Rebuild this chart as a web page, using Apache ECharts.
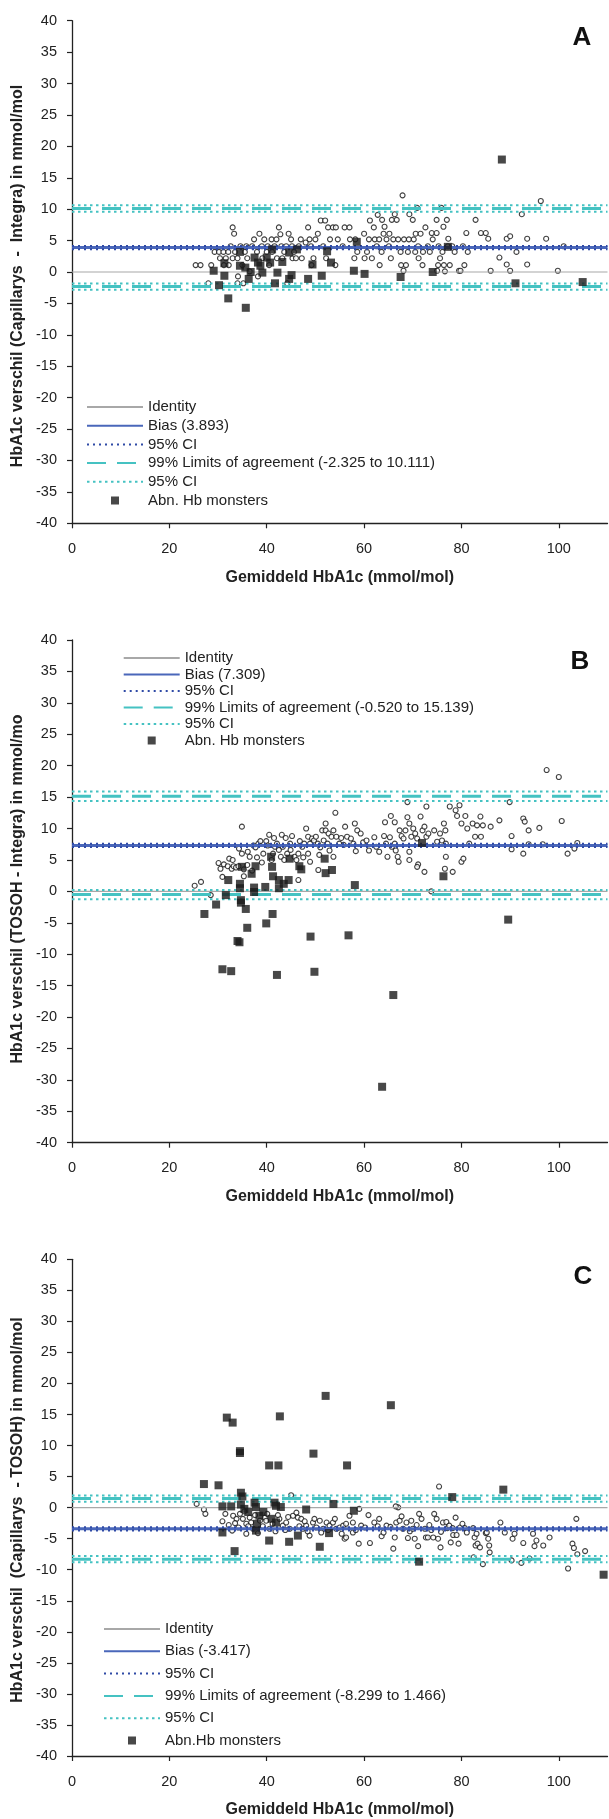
<!DOCTYPE html>
<html>
<head>
<meta charset="utf-8">
<script src="https://cdn.jsdelivr.net/npm/echarts@6/dist/echarts.min.js"></script>
<style>
html,body{margin:0;padding:0;background:#fff;}
#main{width:609px;height:1819px;}
</style>
</head>
<body>
<div id="main"></div>
<script>
// ---- data ----
var xTicks = [0, 20, 40, 60, 80, 100];
var xTitle = 'Gemiddeld HbA1c (mmol/mol)';

// panel A: Capillarys - Integra
var aTitle = 'HbA1c verschil (Capillarys  -  Integra) in mmol/mol';
var aLegend = ['Identity', 'Bias (3.893)', '95% CI', '99% Limits of agreement (-2.325 to 10.111)', '95% CI', 'Abn. Hb monsters'];
var aBias = 3.893, aBiasCI = [3.64, 4.14];
var aLoa = [-2.325, 10.111], aLoaCI = [-2.82, -1.83, 9.61, 10.61];
var aCircles = [
[25.4,1.1],[26.4,1.1],[28,-1.8],[28.6,1.1],[29.3,3.2],[30.2,3.2],[30.4,2.2],[31.1,3.2],[31.2,1.1],[31.6,2.2],[32.1,3.2],[32.2,1.1],
[32.6,4.1],[33,7.1],[33.3,6.1],[33,2.2],[33.5,3.2],[34,2.2],[34.1,-0.7],[34,-1.8],[34.6,4.1],[35,1.1],[35.2,-1.8],[35.5,3.2],
[35.8,4.1],[36,2.2],[36.5,0.1],[37,4.1],[37.4,5.2],[38,3.2],[38.2,-0.7],[38.5,6.1],[39,4.1],[39.1,2.2],[39.5,5.2],[40,3.2],
[40.2,4.1],[40.5,1.1],[41,5.2],[41.1,3.2],[41.6,4.1],[42,5.2],[42.1,2.2],[42.5,7.1],[42.8,6.0],[43,4.1],[43.2,2.2],[43.6,3.2],
[44,4.1],[44.2,-1.8],[44.5,6.1],[45,5.2],[45.2,4.1],[45.3,2.2],[45.6,3.2],[46,2.2],[46.6,4.1],[47,5.2],[47.2,2.2],[48,4.7],
[48.5,7.1],[48.8,5.2],[49.1,4.1],[49.2,1.1],[49.6,2.2],[50,5.2],[50.5,6.1],[51.1,8.2],[52,8.2],[51.6,4.1],[52.2,2.2],[52.6,7.1],
[53,5.2],[53.6,7.1],[54.2,7.1],[54.1,1.1],[54.6,5.2],[55.6,4.1],[56,7.1],[57,7.1],[57.1,5.2],[58,2.2],[58.2,5.2],[58.6,3.2],
[60,6.1],[60.1,2.2],[60.6,3.2],[61,5.2],[61.2,8.2],[61.6,2.2],[62,7.1],[62.2,5.2],[62.6,4.1],[62.8,9.1],[63.1,5.2],[63.2,1.1],
[63.6,3.2],[63.7,8.3],[64,6.1],[64.2,7.2],[64.6,5.2],[65.7,8.3],[65.1,4.1],[65.2,6.1],[65.5,2.2],[67.9,12.2],[66,5.2],[66.3,9.2],
[66.7,8.3],[67,5.2],[67.5,3.2],[67.6,1.1],[68.1,0.2],[68.2,5.2],[68.6,1.1],[69,3.2],[69.3,9.2],[69.2,5.2],[70,8.3],[70.2,5.2],
[70.5,3.2],[70.6,6.1],[70.9,10.2],[71.1,4.1],[71.2,2.2],[71.6,6.1],[72,1.1],[72.1,3.2],[72.6,7.1],[73.1,4.1],[73.5,3.2],[73.9,6.2],
[74.1,5.2],[74.9,6.2],[74.9,8.3],[75,0.2],[75.2,1.1],[75.3,4.1],[75.6,2.2],[75.9,10.2],[76.1,3.2],[76.3,7.2],[76.4,1.1],[76.6,0.1],
[77,8.3],[77.3,5.3],[77.2,4.1],[77.6,1.1],[78.1,4.1],[78.6,3.2],[79.5,0.2],[79.8,0.2],[80.3,4.1],[80.6,1.1],[81,6.2],[81.3,3.2],
[82.9,8.3],[84,6.2],[85,6.2],[85.5,5.3],[86,0.2],[87.8,2.3],[89.3,1.2],[89.3,5.3],[90,5.7],[90,0.2],[91.3,3.2],[92.4,9.2],
[93.5,5.3],[93.5,1.2],[96.3,11.3],[97.4,5.3],[99.8,0.2],[101,4.1]
];
var aSquares = [
[88.3,17.9],[29.1,0.2],[30.2,-2.1],[31.3,1.4],[31.3,-0.6],[32.1,-4.2],[35.7,-5.7],[34.5,3.2],[34.5,1.0],[35.6,0.7],[36.3,-1.1],
[36.7,0.0],[37.5,2.3],[38.2,1.5],[38.7,1.0],[39.1,-0.1],[40,2.3],[40.7,1.5],[41.1,3.6],[41.7,-1.8],[42.2,-0.1],[43.2,1.6],
[44.6,3.1],[46.2,3.6],[44.6,-1.1],[45.1,-0.5],[48.5,-1.1],[49.4,1.2],[51.3,-0.6],[52.4,3.3],[53.2,1.5],[57.9,0.2],[58.5,4.8],
[60.1,-0.3],[67.5,-0.8],[74.1,0.0],[77.2,4.0],[91.1,-1.8],[104.9,-1.6]
];

// panel B: TOSOH - Integra
var bTitle = 'HbA1c verschil (TOSOH - Integra) in mmol/mo';
var bLegend = ['Identity', 'Bias (7.309)', '95% CI', '99% Limits of agreement (-0.520 to 15.139)', '95% CI', 'Abn. Hb monsters'];
var bBias = 7.309, bBiasCI = [7.05, 7.57];
var bLoa = [-0.520, 15.139], bLoaCI = [-1.27, 0.23, 14.39, 15.89];
var bCircles = [
[25.2,0.9],[26.5,1.5],[28.5,-0.6],[30.1,4.5],[30.5,3.6],[31.2,4.3],[30.9,2.3],[32,4.0],[32.8,3.6],[33.2,4.0],[33.7,3.8],[34.2,4.0],
[32.3,5.2],[34.9,10.3],[34.3,6.8],[34.9,6.0],[35.3,3.5],[35.3,2.4],[36.1,6.3],[36.5,5.5],[37.3,7.3],[37.7,7.0],[38.3,7.6],[38.7,8.0],
[39.9,8.0],[39.3,6.0],[40.5,9.0],[41,5],[41.3,6],[41.7,7.1],[42.1,7.6],[42.5,6.6],[42.9,5.5],[43.3,7.1],[43.1,9],[43.9,8.5],
[44.2,6],[44.9,6.6],[45.7,5.5],[46.1,5],[46.5,6],[47.3,7.1],[46.5,1.8],[47.7,7.6],[48.1,10],[48.5,8.7],[48.9,7.6],[49.3,8.4],
[49.7,8.1],[50.1,8.7],[50.5,7.6],[48.5,6],[48.9,4.7],[50.6,3.4],[51.4,9.7],[52.1,10.8],[52.1,9.7],[52.7,9.2],[53.3,8.7],[53.7,9.7],
[51.7,8.1],[52.5,7.6],[52.9,6.5],[53.7,5.5],[54.1,12.5],[54.3,8.7],[54.9,7.6],[55.3,8.5],[56.1,10.3],[56.5,8.7],[57.3,8.4],[58.1,10.8],
[58.3,6.4],[58.6,9.7],[59.3,9.2],[62.1,8.6],[62.5,7.1],[63.1,6.3],[64.1,8.8],[64.5,7.6],[64.8,5.5],[64.3,11],[65.5,12],[66.3,11],
[65.3,8.6],[65.7,7.1],[66.3,7.6],[66.5,6.5],[66.9,5.5],[67.1,4.7],[67.3,9.7],[67.7,8.8],[68.1,8.4],[68.5,9.7],[68.9,11.8],[68.9,14.2],
[69.3,10.8],[69.3,5],[69.3,6.3],[69.7,8.7],[70.1,10],[70.5,9.2],[70.9,8.4],[71.1,4.3],[70.9,3.9],[71.6,11.9],[72,9.7],[72.4,10.3],
[72.8,13.5],[72.8,8.7],[73.2,9.2],[72.4,3.1],[73.8,0.0],[74.4,9.7],[75,7.9],[75.6,9.2],[76,8.1],[76.4,10.8],[76.7,9.7],[76.8,7.6],
[76.8,5.5],[77.6,13.5],[78.2,3.1],[76.6,3.6],[78.8,12.9],[79.6,13.7],[79.1,12],[80,10.8],[80.8,12],[81.2,10],[81.6,7.6],[82.3,10.8],
[82.8,8.7],[83.2,10.5],[83.9,11.9],[84,8.7],[84.4,10.5],[80,4.7],[80.4,5.2],[86,10.3],[87.8,11.3],[89.9,14.2],[90.3,8.8],[90.3,6.7],
[92.7,11.6],[93,11.1],[93.8,9.7],[92.7,6],[93.8,7.5],[96,10.1],[96.7,7.5],[97.5,19.3],[100,18.2],[100.6,11.2],[101.8,6],[103.2,6.8],
[103.8,7.7],[33,5.0],[36,4.2],[37,3.3],[38,5.4],[39,4.6],[40.2,7.3],[41.5,8.5],[43.6,5.0],[44.8,7.6],[45.2,8.8],[46.8,8.0],[47.5,5.4],
[50.8,5.8],[51,7.0],[55.8,7.4],[57.8,7.6],[59.8,7.8],[61,6.5],[60.5,8.1]
];
var bSquares = [
[32.1,1.8],[34.5,1.2],[34.9,3.9],[37.7,4.0],[36.9,2.8],[40.9,5.5],[41.1,3.9],[41.3,2.4],[42.5,1.8],[43.5,1.2],[44.7,5.2],[46.7,4.0],
[47.1,3.5],[51.9,5.2],[52.1,2.9],[53.4,3.4],[58.1,1.0],[71.9,7.7],[76.3,2.4],[27.2,-3.6],[29.6,-2.1],[30.9,-12.4],[31.6,-0.6],
[32.7,-12.7],[34,-7.9],[34.4,-8.1],[34.5,0.5],[34.7,-1.4],[34.7,-1.8],[35.7,-2.8],[36,-5.8],[37.4,0.6],[37.4,-0.1],[39.7,0.7],
[39.9,-5.1],[41.2,-3.6],[42.1,-13.3],[42.5,0.5],[44.5,1.8],[49.0,-7.2],[49.8,-12.8],[56.8,-7.0],[63.7,-31.1],[66,-16.5],[89.6,-4.5]
];

// panel C: Capillarys - TOSOH
var cTitle = 'HbA1c verschil  (Capillarys  - TOSOH) in mmol/mol';
var cLegend = ['Identity', 'Bias (-3.417)', '95% CI', '99% Limits of agreement (-8.299 to 1.466)', '95% CI', 'Abn.Hb monsters'];
var cBias = -3.417, cBiasCI = [-3.67, -3.17];
var cLoa = [-8.299, 1.466], cLoaCI = [-8.80, -7.80, 0.97, 1.97];
var cCircles = [
[25.6,0.6],[27.1,-0.3],[27.4,-1.0],[30.9,-2.2],[32.9,-3.7],[33.1,-1.3],[33.8,-1.8],[34.5,-1.0],[35.1,-1.8],[35.8,-2.6],[35.8,-4.2],
[36.5,-1.6],[36.8,-2.4],[37.2,-3.4],[38.6,-2.1],[39.6,-1.6],[39.9,-2.1],[40.6,-3.4],[42.6,-1.8],[43.3,-2.9],[44,-2.4],[44.7,-3.4],
[45,2.0],[45.4,-1.3],[46.1,-0.8],[46.4,-1.6],[47.1,-1.8],[47.4,-3.4],[48.1,-2.9],[48.8,-4.5],[49.5,-2.4],[49.8,-1.8],[50.2,-3.2],
[50.9,-2.1],[51.6,-3.4],[52.3,-2.4],[52.9,-2.9],[53.6,-2.4],[54.3,-3.4],[55,-3.2],[55.7,-2.9],[56.3,-2.6],[57,-1.3],[57.7,-4],
[57.7,-2.4],[56,-5.0],[56.3,-4.8],[59,-0.2],[58.9,-5.8],[59.4,-2.9],[60.9,-1.2],[61.2,-5.7],[62.1,-2.4],[63.1,-1.8],[63.6,-4.6],
[64.6,-2.9],[66.0,-6.6],[66.3,-4.8],[66.6,-2.4],[67,0.05],[67.3,-2.1],[67.7,-1.4],[68,-3.4],[68.7,-2.4],[69,-4.9],[69.4,-3.8],
[70,-3.4],[70.8,-2.8],[71.1,-6.2],[71.3,-1.0],[71.8,-1.8],[72.5,-3.4],[72.7,-4.8],[73.1,-4.8],[73.4,-2.8],[74.2,-4.8],[74.4,-1.0],
[74.9,-1.8],[75.2,-5.0],[75.4,3.4],[75.7,-6.4],[76.2,-2.4],[76.9,-2.3],[77.1,-3.3],[77.5,-2.9],[78.2,-3.3],[78.3,-4.4],[78.8,-1.6],
[79,-4.4],[79.7,-3.2],[80.2,-2.6],[80.7,-3.3],[82.4,-3.3],[82.7,-4.8],[82.9,-6.1],[83.1,-4.2],[83.3,-5.8],[83.8,-6.4],[84.4,-9.1],
[85,-4.1],[85.5,-5.0],[85.7,-6.1],[85.8,-7.2],[88,-2.4],[88.9,-4.0],[90.3,-8.5],[90.5,-5.0],[90.9,-4.2],[92.3,-8.9],[92.7,-5.7],
[94,-8.2],[94.7,-4.2],[95,-6.2],[95.4,-5.3],[96.8,-6.1],[98.1,-4.8],[101.9,-9.8],[102.8,-5.8],[103.1,-6.5],[103.6,-1.8],[103.8,-7.5],
[105.4,-7.0],[66.5,0.2],[82.5,-8.0],[85.2,-4.0],[31.5,-1.0],[32.2,-2.8],[33.5,-2.5],[34.2,-3.2],[35.4,-0.6],[36.2,-3.0],[37.6,-1.2],
[38.2,-4.1],[39.2,-3.0],[40.1,-1.0],[41.2,-2.6],[41.8,-3.8],[42.3,-1.2],[43.8,-3.6],[44.4,-1.5],[46.7,-3.0],[47.8,-2.2],[48.4,-3.8],
[51.2,-4.0],[52.6,-3.6],[54,-1.8],[55.4,-4.2],[58.3,-3.6],[60.2,-3.2],[62.8,-3.0],[64,-4.0],[65.4,-3.1],[69.7,-2.1],[70.4,-5.0],
[73.8,-3.6],[75.8,-3.9],[77.8,-5.6],[79.4,-5.8],[81.1,-4.0]
];
var cSquares = [
[31.8,14.5],[33,13.7],[34.5,9.1],[34.5,8.8],[42.7,14.7],[40.5,6.8],[42.4,6.8],[49.6,8.7],[52.1,18.0],[56.5,6.8],[65.5,16.5],
[27.1,3.8],[30.1,3.6],[34.7,2.4],[35,1.8],[30.9,0.2],[32.7,0.2],[30.9,-4.0],[33.4,-7.0],[34.7,0.5],[35.4,-0.2],[36.2,-0.7],
[37.5,0.8],[37.8,0.1],[38,-2.6],[37.8,-3.7],[38.5,-1.3],[39.3,-0.7],[41.6,0.8],[41.9,0.3],[42.9,0.1],[41,-1.8],[41.9,-2.4],
[40.5,-5.3],[44.6,-5.5],[46.4,-4.5],[48.1,-0.3],[50.9,-6.3],[53.7,0.6],[52.8,-4.1],[57.9,-0.5],[71.3,-8.7],[78.1,1.7],[88.6,2.9],
[109.2,-10.8]
];

// ---- chart ----
var FONT = "'Liberation Sans', Arial, sans-serif";
var INK = '#222';
var SQUARE_ICON = 'path://M0,0H10V10H0Z';
var panels = [
  {key:'A', title:aTitle, legend:aLegend, bias:aBias, biasCI:aBiasCI, loa:aLoa, loaCI:aLoaCI, circles:aCircles, squares:aSquares,
   grid:{left:72, top:20.7, width:535.5, height:502.6}, leg:{left:86, top:399, gap:2.7}, letter:[582, 38], ytitle:[18, 276]},
  {key:'B', title:bTitle, legend:bLegend, bias:bBias, biasCI:bBiasCI, loa:bLoa, loaCI:bLoaCI, circles:bCircles, squares:bSquares,
   grid:{left:72, top:640, width:535.5, height:502.7}, leg:{left:122.7, top:650, gap:0.5}, letter:[580, 662], ytitle:[18, 889]},
  {key:'C', title:cTitle, legend:cLegend, bias:cBias, biasCI:cBiasCI, loa:cLoa, loaCI:cLoaCI, circles:cCircles, squares:cSquares,
   grid:{left:72, top:1259.3, width:535.5, height:497.4}, leg:{left:103, top:1621, gap:6.3}, letter:[583, 1277], ytitle:[18, 1510]}
];

var labelOf = {};
var grids = [], xAxes = [], yAxes = [], series = [], legends = [], graphics = [];

panels.forEach(function(p, i){
  var ids = ['id','bias','bci','loa','lci','abn'].map(function(s){ return p.key + '_' + s; });
  ids.forEach(function(id, k){ labelOf[id] = p.legend[k]; });

  grids.push(p.grid);
  xAxes.push({
    gridIndex:i, type:'value', min:0, max:110, interval:20,
    axisLine:{show:true, onZero:false, lineStyle:{color:INK, width:1.3}},
    axisTick:{show:true, length:5, customValues:xTicks, lineStyle:{color:INK, width:1.2}},
    axisLabel:{customValues:xTicks, margin:18, fontSize:14.5, color:INK, fontFamily:FONT},
    splitLine:{show:false},
    name:xTitle, nameLocation:'middle', nameGap:46,
    nameTextStyle:{fontSize:16, fontWeight:'bold', color:INK, fontFamily:FONT}
  });
  yAxes.push({
    gridIndex:i, type:'value', min:-40, max:40, interval:5,
    axisLine:{show:true, onZero:false, lineStyle:{color:INK, width:1.3}},
    axisTick:{show:true, length:5, lineStyle:{color:INK, width:1.2}},
    axisLabel:{margin:15, fontSize:14.5, color:INK, fontFamily:FONT},
    splitLine:{show:false}
  });

  function hline(name, v, color, width, type, z){
    return {name:name, type:'line', xAxisIndex:i, yAxisIndex:i, data:[[0, v], [110, v]],
      symbol:'none', silent:true, z:z, color:color,
      lineStyle:{color:color, width:width, type:type, cap:'butt'}};
  }

  series.push({type:'scatter', xAxisIndex:i, yAxisIndex:i, data:p.circles, symbol:'circle', symbolSize:5,
    itemStyle:{color:'#fff', borderColor:'#111', borderWidth:1.1}, z:1, silent:true});
  series.push(hline(ids[0], 0, '#a8a8a8', 1.2, 'solid', 2));
  series.push(hline(ids[1], p.bias, '#4a67ba', 3, 'solid', 2));
  series.push(hline(ids[2], p.biasCI[0], '#2f4aa6', 2, [2, 4], 2));
  series.push(hline(ids[2], p.biasCI[1], '#2f4aa6', 2, [2, 4], 2));
  series.push(hline(ids[3], p.loa[0], '#45c2c2', 3, [19, 11], 2));
  series.push(hline(ids[3], p.loa[1], '#45c2c2', 3, [19, 11], 2));
  p.loaCI.forEach(function(v){ series.push(hline(ids[4], v, '#45c2c2', 2, [2.5, 3.5], 2)); });
  series.push({name:ids[5], type:'scatter', xAxisIndex:i, yAxisIndex:i, data:p.squares, symbol:'rect', symbolSize:8,
    itemStyle:{color:'#1a1a1a'}, z:3, silent:true});

  var legendData = ids.map(function(id, k){
    if (k === 5) return {name:id, icon:SQUARE_ICON};
    return {name:id, itemStyle:{opacity:0}};
  });
  legends.push({
    data:legendData, orient:'vertical', left:p.leg.left, top:p.leg.top, padding:0,
    itemWidth:56, itemHeight:8, itemGap:p.leg.gap, selectedMode:false, symbolKeepAspect:true,
    textStyle:{fontSize:15, lineHeight:16, color:INK, fontFamily:FONT},
    formatter:function(name){ return labelOf[name]; }
  });

  // y axis title (rotated) and panel letter
  graphics.push({type:'text', x:p.ytitle[0], y:p.ytitle[1], rotation:Math.PI / 2,
    style:{text:p.title, font:'bold 16px ' + FONT, fill:INK, textAlign:'center', textVerticalAlign:'middle'}});
  graphics.push({type:'text', x:p.letter[0], y:p.letter[1],
    style:{text:p.key, font:'bold 26px ' + FONT, fill:'#111', textAlign:'center', textVerticalAlign:'middle'}});
});

var chart = echarts.init(document.getElementById('main'), null, {renderer:'canvas'});
chart.setOption({
  animation:false,
  backgroundColor:'#fff',
  textStyle:{fontFamily:FONT},
  grid:grids, xAxis:xAxes, yAxis:yAxes, series:series, legend:legends, graphic:graphics
});
</script>
</body>
</html>
